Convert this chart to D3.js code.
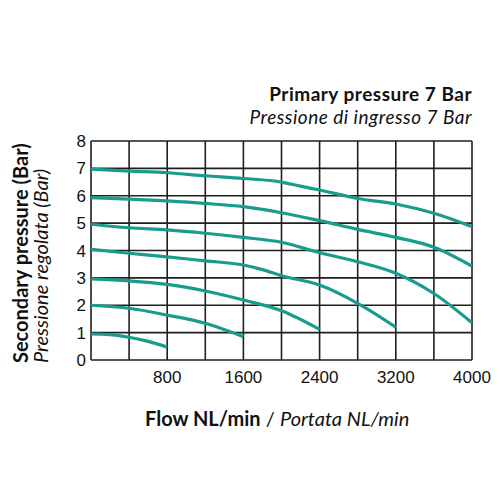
<!DOCTYPE html>
<html>
<head>
<meta charset="utf-8">
<script src="https://cdn.jsdelivr.net/npm/d3@7"></script>
<style>
  body { margin: 0; background: #fff; }
  svg { display: block; }
</style>
</head>
<body>
<div id="chart"></div>
<script>
// flow values (NL/min) where each curve was read
var curve1 = [[0, 0.95], [200, 0.93], [400, 0.83], [600, 0.68], [800, 0.47]];
var curve2 = [[0, 2.0], [400, 1.89], [800, 1.64], [1200, 1.34], [1600, 0.85]];
var curve3 = [[0, 2.96], [400, 2.89], [800, 2.76], [1200, 2.52], [1600, 2.19], [2000, 1.8], [2400, 1.12]];
var curve4 = [[0, 4.04], [400, 3.9], [800, 3.77], [1200, 3.62], [1600, 3.47], [1800, 3.3], [2000, 3.08], [2400, 2.74], [2800, 2.07], [3200, 1.2]];
var curve5 = [[0, 4.96], [400, 4.83], [800, 4.75], [1200, 4.63], [1600, 4.48], [2000, 4.3], [2400, 3.92], [2800, 3.59], [3200, 3.17], [3600, 2.43], [4000, 1.36]];
var curve6 = [[0, 5.93], [400, 5.88], [800, 5.81], [1200, 5.72], [1600, 5.6], [1800, 5.5], [2000, 5.38], [2400, 5.09], [2800, 4.77], [3200, 4.48], [3600, 4.12], [4000, 3.43]];
var curve7 = [[0, 6.97], [400, 6.9], [800, 6.84], [1200, 6.73], [1600, 6.63], [2000, 6.5], [2200, 6.35], [2400, 6.21], [2800, 5.9], [3200, 5.7], [3600, 5.36], [4000, 4.87]];
var curves = [curve1, curve2, curve3, curve4, curve5, curve6, curve7];

var xGrid = [0, 400, 800, 1200, 1600, 2000, 2400, 2800, 3200, 3600, 4000];
var xTickLabels = [800, 1600, 2400, 3200, 4000];
var yTicks = [0, 1, 2, 3, 4, 5, 6, 7, 8];

var width = 500, height = 500;
var margin = { top: 141, right: 28, bottom: 140, left: 91 };

var svg = d3.select("#chart").append("svg")
  .attr("width", width)
  .attr("height", height);

var x = d3.scaleLinear().domain([0, 4000]).range([margin.left, width - margin.right]);
var y = d3.scaleLinear().domain([0, 8]).range([height - margin.bottom, margin.top]);

// grid
var grid = svg.append("g").attr("stroke", "#1e1e1e").attr("stroke-width", 1.6);
grid.selectAll(".vline").data(xGrid).enter().append("line")
  .attr("x1", function(d) { return x(d); })
  .attr("x2", function(d) { return x(d); })
  .attr("y1", y(0))
  .attr("y2", y(8));
grid.selectAll(".hline").data(yTicks).enter().append("line")
  .attr("x1", x(0))
  .attr("x2", x(4000))
  .attr("y1", function(d) { return y(d); })
  .attr("y2", function(d) { return y(d); });

// tick labels
svg.append("g").selectAll("text").data(xTickLabels).enter().append("text")
  .attr("x", function(d) { return x(d); })
  .attr("y", y(0) + 23)
  .attr("text-anchor", "middle")
  .style("font-family", "Liberation Sans, Arial, sans-serif")
  .style("font-size", "17px")
  .attr("fill", "#111")
  .text(function(d) { return d; });

svg.append("g").selectAll("text").data(yTicks).enter().append("text")
  .attr("x", x(0) - 5)
  .attr("y", function(d) { return y(d) + 6; })
  .attr("text-anchor", "end")
  .style("font-family", "Liberation Sans, Arial, sans-serif")
  .style("font-size", "17px")
  .attr("fill", "#111")
  .text(function(d) { return d; });

// curves
var line = d3.line()
  .x(function(d) { return x(d[0]); })
  .y(function(d) { return y(d[1]); })
  .curve(d3.curveMonotoneX);

svg.append("g").selectAll("path").data(curves).enter().append("path")
  .attr("d", line)
  .attr("fill", "none")
  .attr("stroke", "#179c8e")
  .attr("stroke-width", 3.2)
  .attr("stroke-linecap", "butt");

// titles
var font = "Lato, 'Open Sans', sans-serif";
svg.append("text")
  .attr("x", 472).attr("y", 101)
  .attr("text-anchor", "end")
  .style("font-family", font).style("font-size", "19px").style("font-weight", "bold")
  .style("letter-spacing", "0.5px")
  .attr("fill", "#111")
  .text("Primary pressure 7 Bar");
svg.append("text")
  .attr("x", 472).attr("y", 124)
  .attr("text-anchor", "end")
  .style("font-family", font).style("font-size", "19px").style("font-style", "italic")
  .style("letter-spacing", "0.5px")
  .attr("fill", "#111")
  .text("Pressione di ingresso 7 Bar");

svg.append("text")
  .attr("transform", "translate(28,363) rotate(-90)")
  .style("font-family", font).style("font-size", "20px").style("font-weight", "bold")
  .attr("fill", "#111")
  .text("Secondary pressure (Bar)");
svg.append("text")
  .attr("transform", "translate(48,363) rotate(-90)")
  .style("font-family", font).style("font-size", "20px").style("font-style", "italic")
  .attr("fill", "#111")
  .text("Pressione regolata (Bar)");

var xt = svg.append("text")
  .attr("x", 145).attr("y", 426)
  .style("font-family", font).style("font-size", "20px")
  .attr("fill", "#111");
xt.append("tspan").style("font-weight", "bold").text("Flow NL/min");
xt.append("tspan").text(" / ");
xt.append("tspan").style("font-style", "italic").text("Portata NL/min");
</script>
</body>
</html>
